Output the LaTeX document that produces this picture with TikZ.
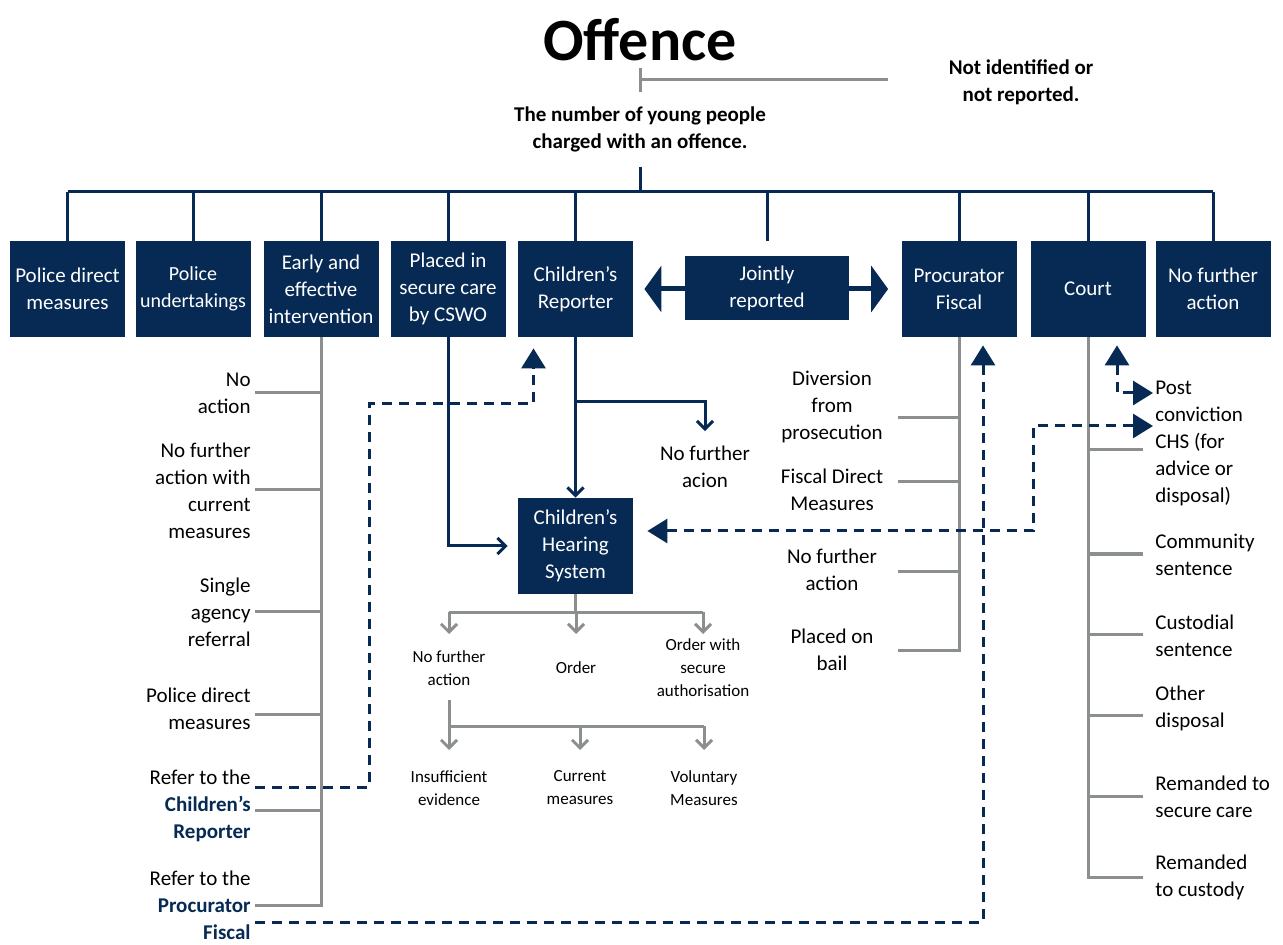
\documentclass[tikz,border=0pt]{standalone}
\usepackage{fontspec}
\setmainfont{Carlito}
\usetikzlibrary{arrows.meta, positioning}
\definecolor{navy}{RGB}{6,42,84}
\definecolor{midgray}{RGB}{140,143,143}

\begin{document}
\begin{tikzpicture}[x=0.5pt, y=-0.5pt,
  box/.style={fill=navy, text=white, minimum width=57.5pt, minimum height=48pt, inner sep=1pt, align=center, font=\fontsize{10.5}{13.5}\selectfont},
  lbl/.style={align=center, font=\fontsize{10.5}{13.5}\selectfont},
  boldlbl/.style={align=center, font=\fontsize{10.5}{13.5}\selectfont\bfseries},
  lbll/.style={lbl, align=right, anchor=east, inner xsep=2pt},
  lblm/.style={lbl, minimum width=66pt, inner xsep=0pt},
  lblr/.style={lbl, align=left, anchor=west, inner xsep=6pt},
  small/.style={align=center, font=\fontsize{8.5}{11.5}\selectfont},
  navyline/.style={navy, line width=1.5pt},
  grayline/.style={midgray, line width=1.5pt},
  navyarrow/.style={navyline, -{Straight Barb[length=4pt, width=8pt]}},
  grayarrow/.style={grayline, -{Straight Barb[length=4pt, width=8pt]}},
  dashlink/.style={navy, line width=1.5pt, dash pattern=on 5pt off 3.5pt},
  dashup/.style={dashlink, -{Triangle[length=10pt, width=12pt]}},
  dashboth/.style={dashlink, {Triangle[length=10pt, width=12pt]}-{Triangle[length=10pt, width=12pt]}},
]
\useasboundingbox (0,0) rectangle (1283,945);

\node[font=\fontsize{30}{36}\selectfont\bfseries] (offence) at (640,40) {Offence};
\node[boldlbl] (notid) at (1021,82) {Not identified or\\not reported.};
\node[boldlbl] (charged) at (640,129) {The number of young people\\charged with an offence.};
\coordinate (tick) at (640,80);
\coordinate (nidend) at (888,80);
\draw[grayline] ([yshift=6pt]tick) -- ([yshift=-6pt]tick);
\draw[grayline] (tick) -- (nidend);

\node[box] (pdm) at (67.5,289) {Police direct\\measures};
\node[box, font=\fontsize{10}{13.5}\selectfont] (pu) at (193,289) {Police\\undertakings};
\node[box] (eei) at (321,289) {Early and\\effective\\intervention};
\node[box] (psc) at (448,289) {Placed in\\secure care\\by CSWO};
\node[box] (cr) at (575.5,289) {Children’s\\Reporter};
\node[box] (pf) at (959,289) {Procurator\\Fiscal};
\node[box] (ct) at (1088,289) {Court};
\node[box] (nfa) at (1213,289) {No further\\action};
\draw[navy, line width=2.5pt, {Triangle[length=8.5pt,width=23pt]}-{Triangle[length=8.5pt,width=23pt]}, shorten <=5.5pt, shorten >=6.5pt] (cr.east) -- (pf.west);
\node[box, minimum width=82pt, minimum height=32pt] (jr) at (767,288) {Jointly\\reported};
\node[box] (chs) at (575.5,546) {Children’s\\Hearing\\System};

\coordinate (bar) at (640,192);
\draw[navyline] ([yshift=-4pt]charged.south) -- (bar);
\draw[navyline] (pdm.north |- bar) -- (nfa.north |- bar);
\foreach \b in {pdm,pu,eei,psc,cr,pf,ct,nfa}
  \draw[navyline] (\b.north |- bar) -- (\b.north);
\draw[navyline] (jr.north |- bar) -- (jr.north |- pf.north);

\node[lbl] (nfac) at (705,467) {No further\\acion};
\draw[navyarrow] (cr) -- (chs);
\draw[navyarrow] (cr.south |- 0,402) -| ([yshift=4pt]nfac.north);
\draw[navyarrow, shorten >=5pt] (psc.south) |- (chs.west);

\node[lbll] (noact) at (255,393) {No\\action};
\node[lbll] (nfacur) at (255,491) {No further\\action with\\current\\measures};
\node[lbll] (single) at (255,612) {Single\\agency\\referral};
\node[lbll] (pdm2) at (255,709) {Police direct\\measures};
\node[lbll] (refcr) at (255,806) {Refer to the\\\textcolor{navy}{\bfseries Children’s}\\\textcolor{navy}{\bfseries Reporter}};
\node[lbll] (refpf) at (255,905) {Refer to the\\\textcolor{navy}{\bfseries Procurator}\\\textcolor{navy}{\bfseries Fiscal}};
\draw[grayline] (eei.south) |- (refpf.east);
\foreach \n/\yy in {noact/393, nfacur/490, single/611, pdm2/714, refcr/810}
  \draw[grayline] (\n.east |- 0,\yy) -- (eei.south |- 0,\yy);

\node[lblm] (div) at (832,407) {Diversion\\from\\prosecution};
\node[lblm] (fdm) at (832,490) {Fiscal Direct\\Measures};
\node[lblm] (pfnfa) at (832,570) {No further\\action};
\node[lblm] (bail) at (832,650) {Placed on\\bail};
\draw[grayline] (pf.south) |- (bail.east);
\foreach \n/\yy in {div/418, fdm/482, pfnfa/571}
  \draw[grayline] (\n.east |- 0,\yy) -- (pf.south |- 0,\yy);

\node[lblr] (pcchs) at (1143,443) {Post\\conviction\\CHS (for\\advice or\\disposal)};
\node[lblr] (comm) at (1143,555) {Community\\sentence};
\node[lblr] (cust) at (1143,636) {Custodial\\sentence};
\node[lblr] (othd) at (1143,708) {Other\\disposal};
\node[lblr] (remsc) at (1143,797) {Remanded to\\secure care};
\node[lblr] (remc) at (1143,877) {Remanded\\to custody};
\draw[grayline] (ct.south) |- (remc.west);
\foreach \n/\yy in {pcchs/450, comm/554, cust/634, othd/715, remsc/796}
  \draw[grayline] (ct.south |- 0,\yy) -- (\n.west |- 0,\yy);

\node[small] (chsnfa) at (449,668) {No further\\action};
\node[small] (order) at (576,668) {Order};
\node[small] (ordsec) at (703,668) {Order with\\secure\\authorisation};
\draw[grayline] (chs.south) -- (chs.south |- 0,612);
\draw[grayline] (chsnfa |- 0,612) -- (ordsec |- 0,612);
\foreach \n in {chsnfa, order, ordsec}
  \draw[grayarrow] (\n |- 0,612) -- (\n |- 0,634);

\node[small] (insuf) at (449,788) {Insufficient\\evidence};
\node[small] (curm) at (580,788) {Current\\measures};
\node[small] (volm) at (704,788) {Voluntary\\Measures};
\draw[grayline] (chsnfa |- 0,700) -- (chsnfa |- 0,726) -- (volm |- 0,726);
\foreach \n in {insuf, curm, volm}
  \draw[grayarrow] (\n |- 0,726) -- (\n |- 0,750);

\coordinate (postin) at (1153,426);
\coordinate (postup) at (1153,393);
\draw[dashup] (refcr.east |- 0,787) -| (369,404) -| ([xshift=-21pt,yshift=-5.5pt]cr.south);
\draw[dashup] (refpf.east |- 0,922) -| ([xshift=12pt,yshift=-4pt]pf.south);
\draw[dashboth] ([xshift=7pt,yshift=7.5pt]chs.east) -| (1033,426) -- (postin);
\draw[dashboth] ([xshift=14.5pt,yshift=-4pt]ct.south) |- (postup);
\end{tikzpicture}
\end{document}
